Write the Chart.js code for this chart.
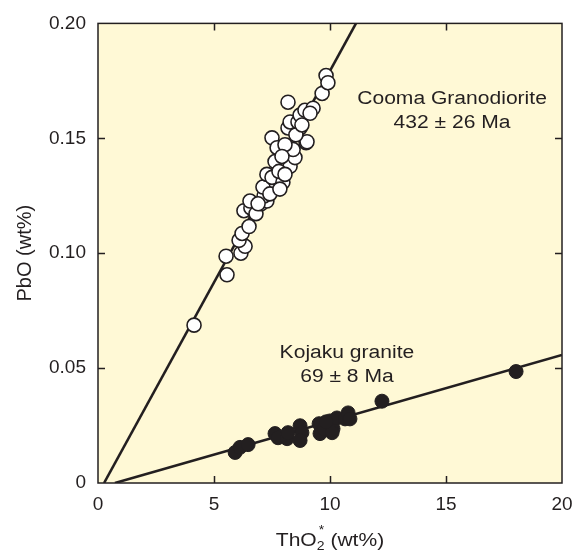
<!DOCTYPE html>
<html>
<head>
<meta charset="utf-8">
<script src="https://cdn.jsdelivr.net/npm/chart.js@4"></script>
<style>
html,body{margin:0;padding:0;background:#fff;}
canvas{display:block;}
</style>
</head>
<body>
<canvas id="c" width="583" height="552"></canvas>
<script>
// ---- Data ----
const coomaTh = [4.14,5.56,5.52,6.16,6.34,6.08,6.21,6.51,6.29,6.59,6.81,7.03,7.28,7.16,7.37,7.54,6.55,7.11,7.41,7.28,7.50,7.97,7.63,8.28,8.49,7.50,7.72,8.41,8.97,8.19,8.71,9.01,8.28,8.62,8.71,8.92,9.27,8.19,9.66,9.83,9.91,8.06,7.93,7.80,8.53,8.79,9.14,6.90,7.84,8.06];
const coomaPb = [0.0687,0.0906,0.0987,0.1000,0.1030,0.1056,0.1086,0.1116,0.1185,0.1197,0.1172,0.1215,0.1227,0.1249,0.1270,0.1288,0.1227,0.1288,0.1258,0.1343,0.1330,0.1309,0.1399,0.1378,0.1416,0.1502,0.1459,0.1451,0.1481,0.1545,0.1545,0.1485,0.1571,0.1571,0.1601,0.1622,0.1631,0.1657,0.1695,0.1773,0.1742,0.1472,0.1421,0.1356,0.1515,0.1558,0.1609,0.1215,0.1279,0.1343];
const kojakuTh = [5.91,6.12,6.47,7.63,7.76,8.15,8.19,8.71,8.79,8.71,9.53,9.57,9.74,10.00,10.13,10.30,10.65,10.78,10.86,10.09,9.83,12.24,18.02];
const kojakuPb = [0.0133,0.0155,0.0167,0.0215,0.0197,0.0193,0.0219,0.0249,0.0219,0.0185,0.0258,0.0215,0.0236,0.0270,0.0236,0.0283,0.0279,0.0305,0.0279,0.0219,0.0266,0.0356,0.0485];
// isochron lines (endpoints in data units)
const coomaLineTh = [0.26, 11.12];
const coomaLinePb = [0.0, 0.20];
const kojakuLineTh = [0.73, 20.0];
const kojakuLinePb = [0.0, 0.0557];
// ticks
const xTicks = [0,5,10,15,20];
const yTicks = [0,0.05,0.10,0.15,0.20];
const yTickLabels = ["0","0.05","0.10","0.15","0.20"];
// annotations
const labels = [
  {text:"Cooma Granodiorite", x:15.26, y:0.1670},
  {text:"432 ± 26 Ma", x:15.26, y:0.1567},
  {text:"Kojaku granite", x:10.73, y:0.0567},
  {text:"69 ± 8 Ma", x:10.73, y:0.0459}
];

const INK = '#231f20';
const FONT = '"Liberation Sans", Arial, Helvetica, sans-serif';
const STRETCH = 1.17;
const zip = (a,b)=>a.map((v,i)=>({x:v,y:b[i]}));

function wideText(ctx, text, x, y, align){
  const w = ctx.measureText(text).width * STRETCH;
  let left = x;
  if (align === 'center') left = x - w/2;
  ctx.save();
  ctx.translate(left, y);
  ctx.scale(STRETCH, 1);
  ctx.textAlign = 'left';
  ctx.fillText(text, 0, 0);
  ctx.restore();
  return w;
}

const frame = {
  id:'frame',
  beforeDatasetsDraw(chart){
    const {ctx, chartArea:a} = chart;
    ctx.save();
    ctx.fillStyle = '#fff9d6';
    ctx.fillRect(a.left, a.top, a.right-a.left, a.bottom-a.top);
    ctx.restore();
  },
  afterDatasetsDraw(chart){
    const {ctx, chartArea:a, scales} = chart;
    const xs = scales.x, ys = scales.y;
    ctx.save();
    ctx.strokeStyle = INK;
    ctx.lineWidth = 1.5;
    ctx.strokeRect(a.left, a.top, a.right-a.left, a.bottom-a.top);
    const L = 7;
    ctx.beginPath();
    xTicks.forEach(v=>{
      if (v===xTicks[0]||v===xTicks[xTicks.length-1]) return;
      const px = Math.round(xs.getPixelForValue(v))+0.5;
      ctx.moveTo(px, a.bottom); ctx.lineTo(px, a.bottom-L);
      ctx.moveTo(px, a.top); ctx.lineTo(px, a.top+L);
    });
    yTicks.forEach(v=>{
      if (v===yTicks[0]||v===yTicks[yTicks.length-1]) return;
      const py = Math.round(ys.getPixelForValue(v))+0.5;
      ctx.moveTo(a.left, py); ctx.lineTo(a.left+L, py);
      ctx.moveTo(a.right, py); ctx.lineTo(a.right-L, py);
    });
    ctx.stroke();
    // annotations
    ctx.fillStyle = INK;
    ctx.font = '18px ' + FONT;
    ctx.textBaseline = 'middle';
    labels.forEach(l=>{
      wideText(ctx, l.text, xs.getPixelForValue(l.x), ys.getPixelForValue(l.y), 'center');
    });
    // x axis title with subscript / superscript
    const cx = (a.left + a.right)/2;
    const by = 546;
    const big = '18px ' + FONT, small = '12px ' + FONT;
    ctx.textBaseline = 'alphabetic';
    ctx.font = big; const w1 = ctx.measureText('ThO').width*STRETCH;
    ctx.font = small; const w2 = ctx.measureText('2').width*STRETCH;
    ctx.font = big; const w4 = ctx.measureText(' (wt%)').width*STRETCH;
    const total = w1 + w2 + w4;
    let x0 = cx - total/2;
    ctx.font = big; wideText(ctx, 'ThO', x0, by, 'left');
    ctx.font = small; wideText(ctx, '2', x0 + w1, by + 4, 'left');
    wideText(ctx, '*', x0 + w1 + 2, by - 12, 'left');
    ctx.font = big; wideText(ctx, ' (wt%)', x0 + w1 + w2, by, 'left');
    ctx.restore();
  }
};

new Chart(document.getElementById('c'), {
  data: {
    datasets: [
      {type:'scatter', label:'Cooma Granodiorite', data: zip(coomaTh, coomaPb), order:1,
       pointRadius:7, pointBackgroundColor:'#ffffff', pointBorderColor:INK, pointBorderWidth:1.6},
      {type:'scatter', label:'Kojaku granite', data: zip(kojakuTh, kojakuPb), order:1,
       pointRadius:7, pointBackgroundColor:INK, pointBorderColor:INK, pointBorderWidth:1},
      {type:'line', label:'Cooma isochron', data: zip(coomaLineTh, coomaLinePb), order:2,
       borderColor:INK, borderWidth:2.6, pointRadius:0, fill:false},
      {type:'line', label:'Kojaku isochron', data: zip(kojakuLineTh, kojakuLinePb), order:2,
       borderColor:INK, borderWidth:2.6, pointRadius:0, fill:false}
    ]
  },
  options: {
    responsive:false,
    animation:false,
    events:[],
    layout:{padding:{left:0, right:21, top:17, bottom:0}},
    plugins:{legend:{display:false}, tooltip:{enabled:false}},
    scales:{
      x:{type:'linear', min:0, max:20,
         afterFit(s){ s.height = 69; },
         afterBuildTicks(s){ s.ticks = xTicks.map(v=>({value:v})); },
         grid:{display:false, drawTicks:false},
         border:{display:false},
         ticks:{color:INK, padding:10, font:{size:19, family:FONT}, maxRotation:0}},
      y:{type:'linear', min:0, max:0.20,
         afterFit(s){ s.width = 98; },
         afterBuildTicks(s){ s.ticks = yTicks.map(v=>({value:v})); },
         grid:{display:false, drawTicks:false},
         border:{display:false},
         ticks:{color:INK, padding:12, font:{size:19, family:FONT},
                callback:(v)=>{ const i = yTicks.findIndex(t=>Math.abs(t-v)<1e-9); return i>=0 ? yTickLabels[i] : ''; }},
         title:{display:true, text:'PbO (wt%)', color:INK, font:{size:20, family:FONT}, padding:{top:13,bottom:0}}}
    }
  },
  plugins:[frame]
});
</script>
</body>
</html>
